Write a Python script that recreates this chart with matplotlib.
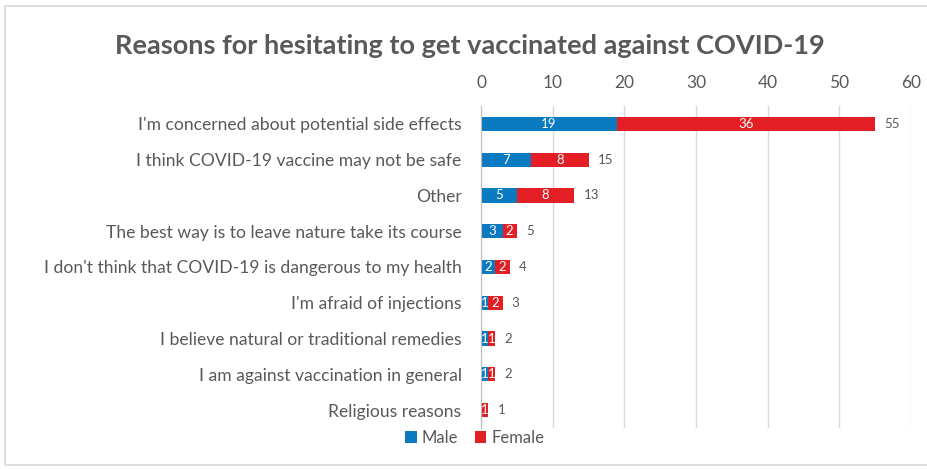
import matplotlib
matplotlib.use("Agg")
import matplotlib.pyplot as plt
from matplotlib.patches import Rectangle

plt.rcParams['font.family'] = ['Lato', 'DejaVu Sans']

categories = [
    "I'm concerned about potential side effects",
    "I think COVID-19 vaccine may not be safe",
    "Other",
    "The best way is to leave nature take its course",
    "I don't think that COVID-19 is dangerous to my health",
    "I'm afraid of injections",
    "I believe natural or traditional remedies",
    "I am against vaccination in general",
    "Religious reasons",
]
male = [19, 7, 5, 3, 2, 1, 1, 1, 0]
female = [36, 8, 8, 2, 2, 2, 1, 1, 1]
totals = [m + f for m, f in zip(male, female)]
x_ticks = [0, 10, 20, 30, 40, 50, 60]

blue = "#0A7BC1"
red = "#E31E24"
gray = "#595959"
grid = "#D9D9D9"

fig = plt.figure(figsize=(9.27, 4.69), dpi=100)
fig.patches.append(Rectangle((0.005, 0.008), 1.2, 0.98, transform=fig.transFigure,
                             fill=False, edgecolor="#D9D9D9", linewidth=1.2))
ax = fig.add_axes([0.5189, 0.0875, 0.4638, 0.6865])

y = list(range(len(categories)))
bh = 0.4
ax.barh(y, male, height=bh, color=blue, label="Male")
ax.barh(y, female, left=male, height=bh, color=red, label="Female")

for i in y:
    if male[i] > 0:
        ax.text(male[i] / 2, i, str(male[i]), ha="center", va="center",
                color="white", fontsize=9.5)
    if female[i] > 0:
        ax.text(male[i] + female[i] / 2, i, str(female[i]), ha="center",
                va="center", color="white", fontsize=9.5)
    ax.text(totals[i] + 1.3, i, str(totals[i]), ha="left", va="center",
            color=gray, fontsize=9.5)

ax.set_xlim(0, 60)
ax.set_ylim(len(categories) - 0.5, -0.5)
ax.set_xticks(x_ticks)
ax.xaxis.tick_top()
ax.tick_params(axis="x", length=0, labelsize=12.5, labelcolor=gray, pad=11)
ax.set_yticks(y)
ax.set_yticklabels(categories)
ax.tick_params(axis="y", length=0, labelsize=12.6, labelcolor=gray, pad=14)
ax.grid(axis="x", color=grid, linewidth=1)
ax.set_axisbelow(True)
for s in ["top", "right", "bottom"]:
    ax.spines[s].set_visible(False)
ax.spines["left"].set_color("#BFBFBF")

fig.text(0.507, 0.902, "Reasons for hesitating to get vaccinated against COVID-19",
         ha="center", va="center", fontsize=19.5, fontweight="bold", color=gray)

fig.legend(loc="center", bbox_to_anchor=(0.512, 0.066), ncol=2, frameon=False,
           fontsize=12, labelcolor=gray, handlelength=0.7, handleheight=0.7,
           handletextpad=0.3, columnspacing=1.0)

fig.savefig("out.png", dpi=100)
